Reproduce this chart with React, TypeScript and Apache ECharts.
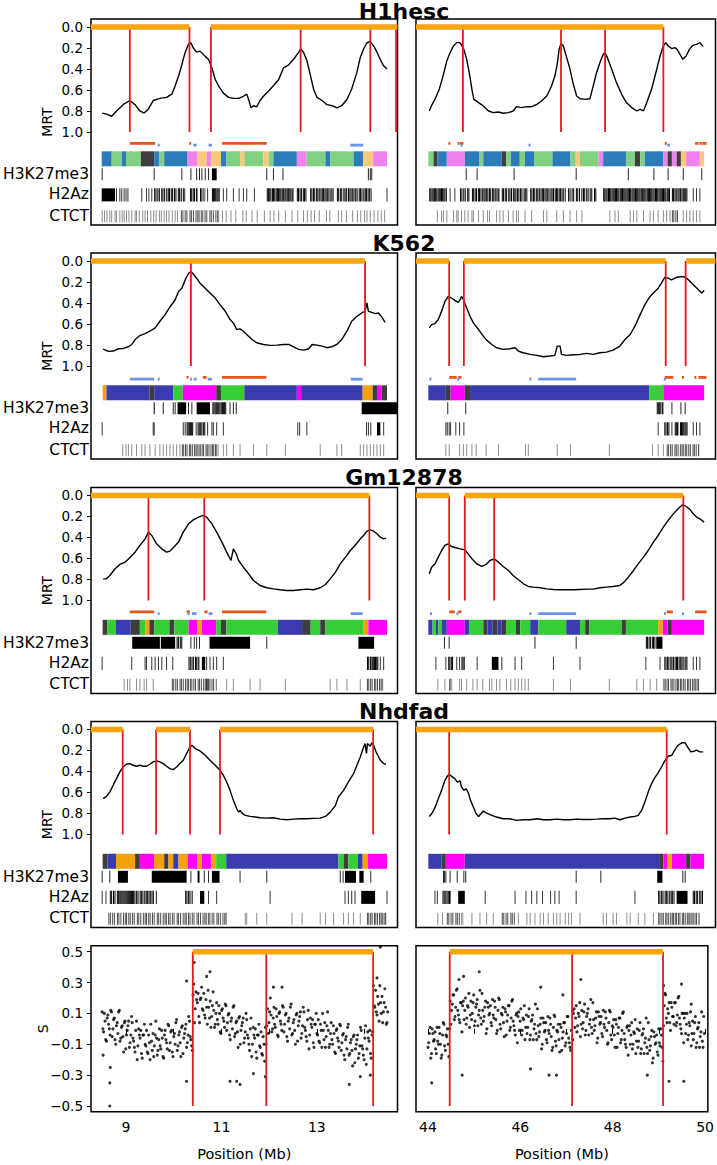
import React, { useEffect, useRef } from "react";
import * as echarts from "echarts";

// ===================== DATA =====================
// MRT curves [position Mb, MRT]
const h1L_mrt = [[8.50,0.82],[8.59,0.83],[8.70,0.85],[8.80,0.80],[8.94,0.74],[9.08,0.70],[9.19,0.74],[9.29,0.80],[9.38,0.82],[9.47,0.78],[9.57,0.70],[9.71,0.68],[9.85,0.67],[9.96,0.64],[10.03,0.56],[10.10,0.47],[10.17,0.36],[10.24,0.24],[10.31,0.165],[10.36,0.15],[10.41,0.20],[10.48,0.24],[10.55,0.23],[10.66,0.28],[10.73,0.31],[10.80,0.39],[10.87,0.50],[10.94,0.56],[11.04,0.63],[11.15,0.67],[11.25,0.68],[11.36,0.68],[11.46,0.66],[11.53,0.64],[11.57,0.69],[11.62,0.77],[11.67,0.75],[11.74,0.76],[11.81,0.70],[11.88,0.66],[11.99,0.61],[12.09,0.56],[12.20,0.50],[12.30,0.39],[12.41,0.36],[12.51,0.31],[12.62,0.24],[12.66,0.21],[12.72,0.24],[12.79,0.32],[12.86,0.45],[12.93,0.59],[13.00,0.67],[13.11,0.70],[13.21,0.74],[13.32,0.75],[13.42,0.77],[13.52,0.75],[13.63,0.69],[13.73,0.59],[13.84,0.43],[13.91,0.29],[13.98,0.21],[14.05,0.15],[14.12,0.14],[14.19,0.18],[14.26,0.24],[14.33,0.31],[14.40,0.37],[14.47,0.40]];
const h1R_mrt = [[44.02,0.80],[44.07,0.746],[44.14,0.689],[44.23,0.594],[44.32,0.451],[44.39,0.324],[44.46,0.244],[44.53,0.181],[44.60,0.149],[44.66,0.149],[44.70,0.171],[44.75,0.213],[44.81,0.308],[44.87,0.451],[44.92,0.594],[44.96,0.689],[45.06,0.72],[45.16,0.752],[45.27,0.80],[45.37,0.816],[45.48,0.81],[45.58,0.822],[45.69,0.816],[45.79,0.80],[45.86,0.759],[45.97,0.768],[46.08,0.759],[46.18,0.759],[46.29,0.737],[46.39,0.705],[46.50,0.657],[46.60,0.562],[46.67,0.467],[46.72,0.356],[46.76,0.213],[46.80,0.156],[46.85,0.181],[46.92,0.292],[46.99,0.403],[47.06,0.546],[47.13,0.657],[47.20,0.683],[47.31,0.689],[47.41,0.683],[47.48,0.562],[47.55,0.435],[47.62,0.34],[47.69,0.26],[47.73,0.244],[47.78,0.292],[47.87,0.403],[47.97,0.53],[48.08,0.641],[48.18,0.72],[48.29,0.768],[48.40,0.80],[48.47,0.784],[48.54,0.80],[48.61,0.72],[48.71,0.594],[48.82,0.403],[48.89,0.276],[48.96,0.181],[49.01,0.149],[49.06,0.181],[49.14,0.206],[49.20,0.197],[49.25,0.213],[49.31,0.26],[49.37,0.308],[49.44,0.276],[49.51,0.213],[49.58,0.175],[49.66,0.165],[49.73,0.149],[49.80,0.187]];
const k5L_mrt = [[8.52,0.839],[8.63,0.861],[8.73,0.858],[8.84,0.836],[8.94,0.833],[9.05,0.817],[9.12,0.795],[9.19,0.748],[9.29,0.710],[9.40,0.691],[9.50,0.669],[9.61,0.637],[9.71,0.574],[9.82,0.511],[9.92,0.438],[10.03,0.369],[10.10,0.290],[10.17,0.259],[10.24,0.180],[10.31,0.117],[10.36,0.101],[10.41,0.123],[10.48,0.164],[10.55,0.211],[10.66,0.259],[10.76,0.306],[10.87,0.353],[10.97,0.416],[11.08,0.479],[11.18,0.558],[11.25,0.590],[11.32,0.653],[11.39,0.647],[11.46,0.669],[11.53,0.700],[11.64,0.748],[11.74,0.779],[11.88,0.795],[12.02,0.804],[12.16,0.801],[12.30,0.795],[12.41,0.795],[12.51,0.817],[12.62,0.842],[12.72,0.849],[12.83,0.836],[12.90,0.795],[13.00,0.801],[13.11,0.811],[13.21,0.826],[13.31,0.817],[13.42,0.795],[13.52,0.748],[13.63,0.669],[13.73,0.574],[13.84,0.527],[13.94,0.495],[14.01,0.480],[14.05,0.400],[14.08,0.480],[14.15,0.489],[14.22,0.502],[14.29,0.495],[14.36,0.533],[14.43,0.584]];
const k5R_mrt = [[44.02,0.637],[44.07,0.606],[44.14,0.596],[44.21,0.558],[44.28,0.480],[44.35,0.385],[44.42,0.338],[44.49,0.353],[44.56,0.375],[44.63,0.394],[44.67,0.369],[44.70,0.338],[44.74,0.369],[44.81,0.448],[44.88,0.527],[44.95,0.590],[45.06,0.653],[45.16,0.716],[45.23,0.754],[45.34,0.795],[45.44,0.826],[45.58,0.842],[45.72,0.836],[45.83,0.826],[45.90,0.858],[46.00,0.874],[46.15,0.890],[46.29,0.899],[46.43,0.912],[46.57,0.905],[46.67,0.899],[46.72,0.811],[46.78,0.811],[46.81,0.890],[46.92,0.899],[47.06,0.893],[47.20,0.890],[47.34,0.880],[47.48,0.890],[47.62,0.874],[47.76,0.868],[47.90,0.849],[48.04,0.811],[48.15,0.748],[48.26,0.700],[48.36,0.621],[48.47,0.511],[48.57,0.416],[48.68,0.338],[48.78,0.290],[48.85,0.259],[48.92,0.211],[48.99,0.155],[49.06,0.164],[49.13,0.180],[49.24,0.155],[49.35,0.148],[49.42,0.155],[49.49,0.180],[49.56,0.211],[49.63,0.243],[49.70,0.274],[49.77,0.306],[49.82,0.281]];
const gmL_mrt = [[8.52,0.794],[8.59,0.794],[8.66,0.762],[8.77,0.698],[8.87,0.657],[8.98,0.635],[9.08,0.594],[9.19,0.540],[9.29,0.476],[9.40,0.413],[9.47,0.349],[9.54,0.381],[9.64,0.460],[9.75,0.508],[9.85,0.540],[9.92,0.530],[9.99,0.498],[10.10,0.444],[10.20,0.349],[10.31,0.270],[10.41,0.232],[10.52,0.206],[10.62,0.190],[10.69,0.206],[10.80,0.270],[10.90,0.349],[11.01,0.444],[11.11,0.540],[11.20,0.619],[11.25,0.508],[11.31,0.556],[11.36,0.619],[11.46,0.683],[11.57,0.746],[11.67,0.810],[11.81,0.857],[11.95,0.879],[12.09,0.889],[12.23,0.898],[12.37,0.905],[12.51,0.905],[12.65,0.898],[12.79,0.892],[12.93,0.898],[13.07,0.879],[13.18,0.848],[13.28,0.794],[13.39,0.730],[13.49,0.651],[13.60,0.587],[13.70,0.524],[13.80,0.476],[13.91,0.413],[13.98,0.381],[14.05,0.340],[14.12,0.327],[14.19,0.340],[14.26,0.365],[14.33,0.397],[14.40,0.413],[14.45,0.406]];
const gmR_mrt = [[44.02,0.746],[44.07,0.683],[44.14,0.651],[44.21,0.587],[44.28,0.524],[44.35,0.476],[44.42,0.460],[44.49,0.486],[44.58,0.498],[44.67,0.508],[44.77,0.517],[44.84,0.556],[44.92,0.603],[45.02,0.651],[45.13,0.676],[45.22,0.657],[45.30,0.619],[45.39,0.603],[45.48,0.635],[45.58,0.676],[45.69,0.714],[45.79,0.762],[45.90,0.803],[46.01,0.841],[46.11,0.867],[46.22,0.873],[46.36,0.879],[46.50,0.889],[46.64,0.895],[46.78,0.898],[46.92,0.898],[47.06,0.898],[47.20,0.895],[47.34,0.892],[47.48,0.892],[47.62,0.879],[47.76,0.873],[47.90,0.867],[48.04,0.857],[48.13,0.825],[48.22,0.778],[48.33,0.714],[48.43,0.651],[48.54,0.587],[48.64,0.524],[48.75,0.444],[48.85,0.381],[48.96,0.302],[49.06,0.238],[49.17,0.175],[49.27,0.127],[49.37,0.086],[49.44,0.105],[49.51,0.127],[49.59,0.175],[49.66,0.206],[49.73,0.222],[49.82,0.254]];
const nhL_mrt = [[8.52,0.659],[8.59,0.637],[8.66,0.596],[8.73,0.532],[8.80,0.468],[8.87,0.404],[8.94,0.357],[9.01,0.331],[9.08,0.325],[9.15,0.341],[9.22,0.350],[9.29,0.341],[9.36,0.350],[9.43,0.350],[9.50,0.331],[9.57,0.309],[9.64,0.299],[9.71,0.309],[9.78,0.325],[9.85,0.350],[9.92,0.373],[9.99,0.382],[10.06,0.357],[10.13,0.325],[10.20,0.293],[10.27,0.229],[10.34,0.166],[10.38,0.150],[10.45,0.182],[10.55,0.204],[10.66,0.245],[10.76,0.293],[10.87,0.341],[10.97,0.389],[11.04,0.436],[11.11,0.500],[11.18,0.580],[11.25,0.675],[11.32,0.755],[11.36,0.787],[11.39,0.771],[11.43,0.796],[11.50,0.818],[11.60,0.828],[11.71,0.834],[11.81,0.841],[11.95,0.844],[12.09,0.841],[12.23,0.854],[12.37,0.860],[12.51,0.854],[12.65,0.850],[12.79,0.850],[12.93,0.847],[13.07,0.844],[13.18,0.828],[13.28,0.787],[13.39,0.723],[13.45,0.643],[13.56,0.580],[13.66,0.500],[13.77,0.420],[13.84,0.341],[13.91,0.261],[13.98,0.166],[14.01,0.134],[14.04,0.229],[14.06,0.134],[14.12,0.159],[14.15,0.127],[14.19,0.150],[14.24,0.213],[14.33,0.293],[14.40,0.325],[14.45,0.331]];
const nhR_mrt = [[44.02,0.828],[44.07,0.803],[44.14,0.745],[44.21,0.659],[44.28,0.580],[44.35,0.484],[44.40,0.446],[44.44,0.427],[44.49,0.446],[44.56,0.468],[44.61,0.500],[44.67,0.490],[44.70,0.548],[44.75,0.580],[44.80,0.564],[44.85,0.611],[44.89,0.675],[44.95,0.739],[45.01,0.803],[45.06,0.828],[45.11,0.803],[45.16,0.777],[45.23,0.796],[45.34,0.818],[45.44,0.834],[45.58,0.850],[45.72,0.850],[45.86,0.866],[46.00,0.860],[46.15,0.860],[46.29,0.850],[46.43,0.860],[46.57,0.860],[46.71,0.854],[46.85,0.860],[46.99,0.860],[47.13,0.854],[47.27,0.857],[47.41,0.857],[47.55,0.854],[47.69,0.850],[47.83,0.850],[47.94,0.844],[48.04,0.860],[48.15,0.844],[48.26,0.834],[48.36,0.828],[48.43,0.818],[48.50,0.771],[48.57,0.691],[48.64,0.596],[48.71,0.516],[48.78,0.459],[48.85,0.414],[48.92,0.357],[48.99,0.299],[49.06,0.255],[49.14,0.245],[49.20,0.197],[49.27,0.150],[49.35,0.127],[49.42,0.127],[49.47,0.166],[49.54,0.213],[49.61,0.207],[49.66,0.197],[49.73,0.213],[49.80,0.213]];

// Domains (orange bars) [start, end] Mb
const h1L_dom = [[8.266,10.33],[10.78,14.69]];
const h1R_dom = [[43.74,48.96]];
const k5L_dom = [[8.266,14.01]];
const k5R_dom = [[43.74,44.44],[44.75,49.01],[49.44,50.06]];
const gmL_dom = [[8.266,14.10]];
const gmR_dom = [[43.74,44.44],[44.77,49.38]];
const nhL_dom = [[8.266,8.93],[9.63,10.34],[10.97,14.18]];
const nhR_dom = [[43.74,49.03]];
const sL_dom = [[10.40,14.18]];
const sR_dom = [[44.47,49.09]];

// Domain borders (red lines) Mb
const h1L_red = [9.08,10.33,10.78,12.66,14.12,14.66];
const h1R_red = [44.73,46.80,47.73,48.96];
const k5L_red = [10.36,14.01];
const k5R_red = [44.44,44.75,49.01,49.43];
const gmL_red = [9.47,10.64,14.10];
const gmR_red = [44.44,44.77,45.39,49.38];
const nhL_red = [8.93,9.63,10.34,10.97,14.18];
const nhR_red = [44.44,49.03];
const sL_red = [10.40,11.94,14.18];
const sR_red = [44.47,47.12,49.09];

// Small markers under the curve: orange and blue segments [start, end]
const h1L_mo = [[9.08,9.61],[10.33,10.36],[11.01,11.95]];
const h1L_mb = [[9.68,9.69],[10.41,10.48],[10.73,10.80],[13.70,13.97]];
const h1R_mo = [[44.43,44.46],[44.62,44.66],[44.67,44.74],[48.99,49.03],[49.63,49.70],[49.72,49.77],[49.78,49.87]];
const h1R_mb = [[44.68,44.72],[46.13,46.14],[49.04,49.10]];
const k5L_mo = [[10.27,10.31],[10.61,10.69],[11.01,11.94]];
const k5L_mb = [[9.08,9.59],[9.68,9.69],[10.35,10.38],[10.42,10.48],[10.71,10.80],[13.71,13.96]];
const k5R_mo = [[44.44,44.60],[44.63,44.70],[48.99,49.17],[49.37,49.38],[49.63,49.64],[49.70,49.87]];
const k5R_mb = [[44.04,44.05],[44.61,44.65],[46.15,46.16],[46.32,47.12],[48.98,49.00]];
const gmL_mo = [[9.08,9.59],[10.27,10.34],[10.64,10.71],[11.01,11.94]];
const gmL_mb = [[9.68,9.69],[10.31,10.32],[10.38,10.48],[10.73,10.81],[13.71,13.96]];
const gmR_mo = [[44.44,44.56],[44.63,44.70],[49.03,49.16],[49.63,49.87]];
const gmR_mb = [[44.05,44.06],[44.61,44.62],[46.15,46.16],[46.32,47.12],[48.99,49.00],[49.37,49.38]];
const none: number[][] = [];

// Chromatin states [start, end, state]
const h1L_st = [[8.49,8.70,'b'],[8.70,8.91,'g'],[8.91,9.00,'b'],[9.00,9.31,'g'],[9.31,9.59,'k'],[9.59,9.69,'b'],[9.69,9.80,'g'],[9.80,10.29,'b'],[10.29,10.50,'v'],[10.50,10.69,'y'],[10.69,10.78,'v'],[10.78,10.99,'y'],[10.99,11.10,'b'],[11.10,11.39,'g'],[11.39,11.48,'y'],[11.48,11.88,'g'],[11.88,11.99,'y'],[11.99,12.09,'g'],[12.09,12.58,'b'],[12.58,12.78,'v'],[12.78,13.18,'g'],[13.18,13.28,'b'],[13.28,13.77,'g'],[13.77,13.97,'b'],[13.97,14.18,'y'],[14.18,14.47,'v']];
const h1R_st = [[44.00,44.11,'g'],[44.11,44.19,'k'],[44.19,44.39,'b'],[44.39,44.77,'v'],[44.77,45.07,'b'],[45.07,45.16,'g'],[45.16,45.55,'b'],[45.55,45.64,'k'],[45.64,45.74,'g'],[45.74,45.93,'b'],[45.93,46.04,'g'],[46.04,46.23,'b'],[46.23,46.62,'g'],[46.62,47.00,'b'],[47.00,47.11,'g'],[47.11,47.20,'y'],[47.20,47.59,'g'],[47.59,47.69,'v'],[47.69,48.17,'b'],[48.17,48.36,'g'],[48.36,48.47,'k'],[48.47,48.57,'g'],[48.57,48.96,'b'],[48.96,49.05,'v'],[49.05,49.14,'k'],[49.14,49.24,'v'],[49.24,49.33,'k'],[49.33,49.44,'y'],[49.44,49.73,'v'],[49.73,49.82,'y']];
const k5L_st = [[8.51,8.59,'o'],[8.59,9.49,'n'],[9.49,9.59,'k'],[9.59,9.99,'n'],[9.99,10.19,'l'],[10.19,10.89,'m'],[10.89,10.99,'k'],[10.99,11.48,'l'],[11.48,12.58,'n'],[12.58,12.67,'m'],[12.67,13.96,'n'],[13.96,14.17,'o'],[14.17,14.26,'k'],[14.26,14.36,'m'],[14.36,14.47,'k']];
const k5R_st = [[44.00,44.37,'n'],[44.37,44.47,'k'],[44.47,44.77,'m'],[44.77,44.88,'k'],[44.88,48.66,'n'],[48.66,48.96,'l'],[48.96,49.82,'m']];
const gmL_st = [[8.51,8.61,'k'],[8.61,8.79,'l'],[8.79,9.10,'n'],[9.10,9.29,'k'],[9.29,9.40,'l'],[9.40,9.49,'o'],[9.49,9.59,'k'],[9.59,9.91,'l'],[9.91,10.01,'k'],[10.01,10.31,'l'],[10.31,10.50,'m'],[10.50,10.59,'o'],[10.59,10.89,'m'],[10.89,10.99,'l'],[10.99,11.10,'k'],[11.10,12.18,'l'],[12.18,12.69,'n'],[12.69,12.87,'k'],[12.87,13.07,'l'],[13.07,13.18,'k'],[13.18,13.98,'l'],[13.98,14.08,'o'],[14.08,14.47,'m']];
const gmR_st = [[44.00,44.09,'n'],[44.09,44.16,'l'],[44.16,44.21,'n'],[44.21,44.28,'l'],[44.28,44.39,'n'],[44.39,44.77,'m'],[44.77,44.87,'n'],[44.87,45.16,'l'],[45.16,45.25,'k'],[45.25,45.36,'n'],[45.36,45.46,'k'],[45.46,45.55,'n'],[45.55,45.64,'k'],[45.64,45.85,'l'],[45.85,45.94,'k'],[45.94,46.15,'l'],[46.15,46.32,'n'],[46.32,46.91,'l'],[46.91,47.20,'n'],[47.20,47.31,'l'],[47.31,47.40,'k'],[47.40,48.08,'l'],[48.08,48.17,'k'],[48.17,48.85,'l'],[48.85,48.95,'o'],[48.95,49.05,'m'],[49.05,49.14,'k'],[49.14,49.82,'m']];
const nhL_st = [[8.51,8.61,'k'],[8.61,8.79,'n'],[8.79,9.19,'o'],[9.19,9.29,'k'],[9.29,9.59,'m'],[9.59,9.80,'o'],[9.80,9.89,'k'],[9.89,9.99,'o'],[9.99,10.10,'n'],[10.10,10.29,'o'],[10.29,10.50,'m'],[10.50,10.59,'o'],[10.59,10.78,'m'],[10.78,10.89,'o'],[10.89,11.10,'l'],[11.10,13.45,'n'],[13.45,13.56,'l'],[13.56,13.66,'k'],[13.66,13.86,'l'],[13.86,13.96,'n'],[13.96,14.07,'o'],[14.07,14.47,'m']];
const nhR_st = [[44.00,44.28,'n'],[44.28,44.37,'k'],[44.37,44.77,'m'],[44.77,48.87,'n'],[48.87,48.96,'k'],[48.96,49.05,'m'],[49.05,49.14,'o'],[49.14,49.44,'m'],[49.44,49.53,'k'],[49.53,49.82,'m']];

// Tracks: a number = single peak; [start, end, density?] = covered region
const h1L_h3 = [8.50,9.59,10.17,10.36,10.48,10.54,10.59,10.66,10.73,[10.80,10.90],11.95,12.09,12.29,14.08,14.12,14.15];
const h1L_h2 = [[8.49,8.77],8.80,8.87,8.91,8.96,9.00,9.04,9.33,9.43,9.48,9.54,[9.59,10.24,0.6],[10.34,10.50,0.7],[10.55,10.66,0.55],10.71,[10.80,10.97,0.9],11.04,11.11,11.25,11.37,11.46,11.53,11.69,[11.95,12.51,0.8],[12.58,12.79,0.7],[12.86,13.35,0.7],[13.42,14.15,0.65],14.47];
const h1L_ct = [8.50,8.55,8.60,8.66,8.70,8.77,8.80,8.87,8.92,8.96,9.01,9.06,9.12,9.19,9.22,9.28,9.35,9.40,9.45,9.52,9.58,9.63,9.70,9.74,9.80,9.85,9.90,9.97,10.03,10.08,[10.15,10.95,0.5],11.02,11.10,11.20,11.30,11.45,11.52,11.64,11.75,11.90,12.02,12.10,12.20,12.34,12.48,12.60,12.72,12.80,12.88,12.95,13.05,13.20,13.27,13.45,13.52,13.62,13.75,13.85,13.92,14.00,14.05,14.12,14.20,14.28,14.35,14.42];
const h1R_h3 = [44.80,45.03,45.81,47.12,48.22,48.76,49.06,49.38,49.77];
const h1R_h2 = [[44.02,44.39,0.85],44.46,44.56,[44.67,44.88,0.6],[44.92,45.50,0.7],[45.55,46.10,0.65],[46.15,46.90,0.7],[46.95,47.55,0.55],[47.69,49.10,0.85],[49.14,49.47,0.75],49.59,49.66,49.73];
const h1R_ct = [44.19,44.28,44.32,44.39,44.53,44.60,44.63,44.70,44.77,44.84,44.92,44.95,45.06,45.16,45.25,45.29,45.44,45.51,45.58,45.69,45.79,45.86,45.90,46.04,46.18,46.43,46.50,46.71,46.85,46.99,47.13,47.24,47.83,47.94,48.01,48.26,48.33,48.40,48.54,48.68,48.75,48.85,48.96,49.03,49.10,[49.14,49.30,0.55],49.38,49.45,49.52,49.59,49.66,49.73];
const k5L_h3 = [[9.58,9.60],9.78,9.99,10.03,[10.08,10.26],10.31,10.38,[10.48,10.76],[10.81,11.10,0.85],11.18,11.25,11.31,[13.94,14.69]];
const k5L_h2 = [8.50,9.57,9.59,10.20,10.24,[10.27,10.41,0.9],10.47,[10.50,10.66,0.75],10.71,10.80,10.83,10.90,11.04,12.60,12.64,12.79,14.04,14.08,14.13,[14.26,14.33],14.40];
const k5L_ct = [8.93,9.00,9.05,9.12,9.22,9.33,9.40,9.50,9.61,9.71,9.78,9.85,9.92,9.99,10.06,10.13,[10.17,10.94,0.6],11.04,11.11,11.25,11.39,11.67,11.95,12.34,13.07,13.42,13.52,13.91,13.98,14.05,14.12,14.19,14.26,14.33,14.40];
const k5R_h3 = [44.41,44.79,[48.82,48.96,0.8],49.14,49.33,49.42];
const k5R_h2 = [44.37,44.40,44.44,44.47,44.58,44.66,44.75,48.85,[48.98,49.10,0.7],49.14,[49.20,49.28,0.85],[49.31,49.47,0.9],49.59,49.66,49.73];
const k5R_ct = [44.37,44.44,44.66,44.74,44.81,44.92,45.01,45.22,45.48,46.05,46.11,46.72,47.00,47.82,48.73,48.85,48.96,[49.03,49.73,0.55]];
const gmL_h3 = [[9.13,9.71],[9.73,10.03],[10.06,10.19,0.6],10.36,10.43,10.48,10.54,[10.75,11.60],11.95,[13.87,14.20]];
const gmL_h2 = [8.50,9.12,9.40,9.43,9.54,9.61,9.68,9.75,9.85,9.98,[10.31,10.55,0.65],[10.59,10.66],10.69,10.76,10.83,10.90,11.04,[14.05,14.15,0.65],[14.15,14.29,0.9],14.33,14.40];
const gmL_ct = [8.96,9.03,9.08,9.22,9.29,9.38,9.43,9.57,[9.96,10.90,0.55],[10.69,10.71],11.11,11.25,11.60,11.81,12.34,13.28,13.42,13.63,13.91,[14.05,14.40,0.6]];
const gmR_h3 = [44.34,44.44,46.25,47.12,[48.59,48.82,0.7],[48.82,48.94]];
const gmR_h2 = [44.16,44.37,[44.42,44.53,0.75],44.60,44.66,[44.70,44.77,0.75],45.03,[45.34,45.48],45.55,45.83,45.97,46.64,47.20,48.59,48.89,[48.98,49.47,0.7],49.59,49.66,49.73];
const gmR_ct = [44.20,44.35,[44.44,44.51,0.6],44.66,44.70,44.81,44.94,45.03,45.15,45.29,45.34,45.44,45.51,45.65,45.74,45.83,45.90,45.97,46.04,46.11,46.64,47.00,47.82,48.40,48.54,48.68,48.82,[48.96,49.73,0.6]];
const nhL_h3 = [8.50,8.66,[8.83,9.04],[9.54,10.27],10.36,[10.50,10.54],10.64,10.73,[10.80,10.96],11.39,11.95,13.49,13.55,[13.59,13.82],[13.89,13.98],14.13];
const nhL_h2 = [8.50,8.58,[8.66,8.86,0.6],[8.86,9.15,0.95],[9.15,9.61,0.65],9.64,[10.24,10.40,0.65],[10.55,10.64],10.73,10.90,12.02,13.59,13.66,13.73,13.80,[13.93,14.22],14.47];
const nhL_ct = [[8.63,11.11,0.5],11.50,11.53,11.74,11.95,12.48,12.69,13.07,13.18,13.35,13.56,13.66,13.77,13.91,[14.05,14.47,0.6]];
const nhR_h3 = [44.32,44.34,44.37,44.46,44.61,44.75,44.79,47.12,47.64,[48.83,48.94],49.37,49.42];
const nhR_h2 = [44.14,44.19,[44.30,44.42,0.7],[44.42,44.47],[44.63,44.77],45.20,45.83,46.06,46.18,46.29,46.41,46.58,46.67,46.76,47.12,48.36,[48.85,49.20,0.65],[49.24,49.47],[49.58,49.80,0.65]];
const nhR_ct = [44.20,44.30,[44.39,44.74,0.5],44.92,45.09,45.23,45.37,[45.55,45.83,0.5],45.90,46.08,46.15,46.25,46.36,46.43,46.53,46.64,46.71,46.78,46.89,46.96,47.02,47.20,47.69,47.76,47.90,47.97,48.19,48.26,48.43,48.57,48.75,[48.85,49.73,0.6]];

// S values [position Mb, S]
const sL_pts = [[8.50,0.11],[8.53,-0.02],[8.56,0.05],[8.59,-0.08],[8.62,0.09],[8.65,0.00],[8.68,0.12],[8.71,-0.05],[8.74,0.06],[8.77,-0.07],[8.80,0.02],[8.83,-0.03],[8.86,0.12],[8.89,-0.06],[8.92,0.02],[8.95,-0.15],[8.98,0.05],[9.01,-0.04],[9.04,0.02],[9.07,-0.12],[9.10,-0.04],[9.13,0.04],[9.16,-0.08],[9.19,-0.15],[9.22,0.05],[9.25,-0.11],[9.28,-0.04],[9.31,-0.01],[9.34,-0.19],[9.37,-0.04],[9.40,-0.10],[9.43,-0.01],[9.46,-0.16],[9.49,-0.09],[9.52,0.03],[9.55,-0.14],[9.58,-0.18],[9.61,-0.04],[9.64,-0.06],[9.67,-0.14],[9.70,0.00],[9.73,-0.13],[9.76,-0.06],[9.79,-0.19],[9.82,-0.01],[9.85,-0.09],[9.88,0.03],[9.91,-0.14],[9.94,-0.02],[9.97,-0.15],[10.00,-0.05],[10.03,-0.10],[10.06,0.06],[10.09,-0.11],[10.12,-0.02],[10.15,-0.18],[10.18,0.02],[10.21,-0.06],[10.24,0.00],[10.27,-0.12],[10.30,-0.04],[10.33,0.05],[10.36,-0.07],[10.39,-0.14],[10.42,0.29],[10.45,0.13],[10.48,0.19],[10.51,0.23],[10.54,0.04],[10.57,0.20],[10.60,0.13],[10.63,0.23],[10.66,0.07],[10.69,0.14],[10.72,0.25],[10.75,0.07],[10.78,0.01],[10.81,0.15],[10.84,0.12],[10.87,0.03],[10.90,0.17],[10.93,0.03],[10.96,0.10],[10.99,-0.03],[11.02,0.13],[11.05,0.05],[11.08,0.16],[11.11,-0.01],[11.14,0.09],[11.17,-0.04],[11.20,0.05],[11.23,0.00],[11.26,0.15],[11.29,-0.03],[11.32,0.05],[11.35,-0.12],[11.38,0.08],[11.41,-0.01],[11.44,0.04],[11.47,-0.09],[11.50,-0.02],[11.53,0.06],[11.56,-0.06],[11.59,-0.14],[11.62,0.07],[11.65,-0.10],[11.68,-0.04],[11.71,0.00],[11.74,-0.19],[11.77,-0.04],[11.80,-0.11],[11.83,-0.02],[11.86,-0.17],[11.89,-0.10],[11.92,0.01],[11.95,0.02],[11.98,-0.03],[12.01,0.11],[12.04,0.09],[12.07,0.00],[12.10,0.14],[12.13,0.01],[12.16,0.08],[12.19,-0.05],[12.22,0.11],[12.25,0.03],[12.28,0.15],[12.31,-0.02],[12.34,0.09],[12.37,-0.05],[12.40,0.05],[12.43,0.00],[12.46,0.16],[12.49,-0.03],[12.52,0.06],[12.55,-0.10],[12.58,0.10],[12.61,0.02],[12.64,0.08],[12.67,-0.06],[12.70,0.02],[12.73,0.11],[12.76,-0.01],[12.79,-0.08],[12.82,0.12],[12.85,-0.04],[12.88,0.03],[12.91,0.06],[12.94,-0.12],[12.97,0.03],[13.00,-0.03],[13.03,0.06],[13.06,-0.09],[13.09,-0.01],[13.12,0.10],[13.15,-0.07],[13.18,-0.12],[13.21,0.02],[13.24,-0.01],[13.27,-0.10],[13.30,0.04],[13.33,-0.10],[13.36,-0.03],[13.39,-0.16],[13.42,0.00],[13.45,-0.08],[13.48,0.03],[13.51,-0.14],[13.54,-0.04],[13.57,-0.17],[13.60,-0.07],[13.63,-0.13],[13.66,0.03],[13.69,-0.16],[13.72,-0.07],[13.75,-0.24],[13.78,-0.04],[13.81,-0.13],[13.84,-0.07],[13.87,-0.19],[13.90,-0.11],[13.93,-0.01],[13.96,-0.13],[13.99,-0.20],[14.02,0.02],[14.05,-0.13],[14.08,-0.06],[14.11,-0.01],[14.14,-0.19],[14.17,-0.02],[14.20,0.15],[14.23,0.25],[14.26,0.09],[14.29,0.16],[14.32,0.28],[14.35,0.10],[14.38,0.04],[14.41,0.17],[14.44,0.14],[14.47,0.04],
[8.515,0.00],[8.545,0.10],[8.575,-0.07],[8.605,0.07],[8.635,0.03],[8.665,-0.04],[8.695,0.11],[8.725,0.00],[8.755,0.07],[8.785,-0.10],[8.815,0.04],[8.845,0.11],[8.875,-0.08],[8.905,0.01],[8.935,-0.05],[8.965,0.04],[8.995,-0.13],[9.025,-0.01],[9.055,0.05],[9.085,-0.09],[9.115,0.08],[9.145,-0.06],[9.175,-0.12],[9.205,-0.01],[9.235,-0.20],[9.265,0.00],[9.295,-0.06],[9.325,-0.16],[9.355,-0.04],[9.385,0.03],[9.415,-0.11],[9.445,-0.15],[9.475,-0.04],[9.505,-0.20],[9.535,-0.08],[9.565,-0.03],[9.595,-0.11],[9.625,0.05],[9.655,-0.17],[9.685,-0.07],[9.715,-0.11],[9.745,-0.01],[9.775,-0.18],[9.805,-0.04],[9.835,-0.07],[9.865,-0.13],[9.895,0.02],[9.925,-0.09],[9.955,-0.01],[9.985,-0.18],[10.015,-0.03],[10.045,0.04],[10.075,-0.14],[10.105,-0.04],[10.135,-0.09],[10.165,0.01],[10.195,-0.16],[10.225,-0.03],[10.255,0.03],[10.285,-0.09],[10.315,0.08],[10.345,-0.05],[10.375,-0.11],[10.405,0.22],[10.435,0.04],[10.465,0.24],[10.495,0.17],[10.525,0.08],[10.555,0.19],[10.585,0.27],[10.615,0.12],[10.645,0.09],[10.675,0.19],[10.705,0.03],[10.735,0.14],[10.765,0.18],[10.795,0.08],[10.825,0.24],[10.855,0.01],[10.885,0.10],[10.915,0.06],[10.945,0.15],[10.975,-0.02],[11.005,0.12],[11.035,0.07],[11.065,0.01],[11.095,0.15],[11.125,0.04],[11.155,0.10],[11.185,-0.07],[11.215,0.07],[11.245,0.14],[11.275,-0.05],[11.305,0.04],[11.335,-0.02],[11.365,0.07],[11.395,-0.10],[11.425,0.02],[11.455,0.07],[11.485,-0.06],[11.515,0.10],[11.545,-0.04],[11.575,-0.10],[11.605,0.00],[11.635,-0.18],[11.665,0.01],[11.695,-0.06],[11.725,-0.15],[11.755,-0.04],[11.785,0.03],[11.815,-0.12],[11.845,-0.16],[11.875,-0.05],[11.905,-0.21],[11.935,-0.10],[11.965,0.13],[11.995,0.04],[12.025,0.20],[12.055,-0.02],[12.085,0.07],[12.115,0.03],[12.145,0.13],[12.175,-0.04],[12.205,0.10],[12.235,0.05],[12.265,-0.01],[12.295,0.14],[12.325,0.03],[12.355,0.10],[12.385,-0.08],[12.415,0.07],[12.445,0.14],[12.475,-0.04],[12.505,0.04],[12.535,-0.01],[12.565,0.09],[12.595,-0.08],[12.625,0.05],[12.655,0.11],[12.685,-0.03],[12.715,0.14],[12.745,0.01],[12.775,-0.05],[12.805,0.06],[12.835,-0.13],[12.865,0.07],[12.895,0.01],[12.925,-0.09],[12.955,0.03],[12.985,0.10],[13.015,-0.04],[13.045,-0.08],[13.075,0.03],[13.105,-0.12],[13.135,-0.01],[13.165,0.04],[13.195,-0.05],[13.225,0.11],[13.255,-0.12],[13.285,-0.03],[13.315,-0.07],[13.345,0.02],[13.375,-0.15],[13.405,-0.01],[13.435,-0.06],[13.465,-0.12],[13.495,0.02],[13.525,-0.09],[13.555,-0.03],[13.585,-0.20],[13.615,-0.05],[13.645,0.01],[13.675,-0.17],[13.705,-0.09],[13.735,-0.14],[13.765,-0.05],[13.795,-0.22],[13.825,-0.10],[13.855,-0.04],[13.885,-0.16],[13.915,0.01],[13.945,-0.11],[13.975,-0.17],[14.005,-0.06],[14.035,-0.23],[14.065,-0.02],[14.095,-0.08],[14.125,-0.16],[14.155,-0.04],[14.185,0.28],[14.215,0.14],[14.245,0.11],[14.275,0.21],[14.305,0.05],[14.335,0.17],[14.365,0.21],[14.395,0.11],[14.425,0.26],[14.455,0.03],[14.485,0.11],
[8.66,-0.50],[8.66,-0.35],[8.67,-0.25],[10.43,0.43],[10.76,0.37],[10.69,0.34],[14.33,0.53],[14.26,0.33],[10.27,-0.34],[11.32,-0.34],[11.39,-0.36],[13.68,-0.36],[11.67,-0.29],[11.92,-0.31],[12.09,0.27],[12.27,0.27],[14.12,-0.30],[13.91,-0.31],[10.27,0.31],[8.52,-0.17],[11.18,-0.34]];
const sR_pts = [[44.00,-0.12],[44.03,-0.03],[44.06,-0.19],[44.09,0.00],[44.12,-0.08],[44.15,-0.02],[44.18,-0.16],[44.21,-0.08],[44.24,0.01],[44.27,-0.10],[44.30,-0.17],[44.33,0.04],[44.36,-0.11],[44.39,-0.04],[44.42,0.00],[44.45,-0.18],[44.48,0.18],[44.51,0.12],[44.54,0.22],[44.57,0.06],[44.60,0.14],[44.63,0.26],[44.66,0.09],[44.69,0.04],[44.72,0.17],[44.75,0.15],[44.78,0.06],[44.81,0.20],[44.84,0.07],[44.87,0.14],[44.90,0.01],[44.93,0.18],[44.96,0.10],[44.99,0.22],[45.02,0.05],[45.05,0.16],[45.08,0.02],[45.11,0.12],[45.14,0.07],[45.17,0.23],[45.20,0.05],[45.23,0.14],[45.26,-0.03],[45.29,0.17],[45.32,0.09],[45.35,0.15],[45.38,0.02],[45.41,0.09],[45.44,0.18],[45.47,0.06],[45.50,-0.01],[45.53,0.20],[45.56,0.03],[45.59,0.10],[45.62,0.14],[45.65,-0.05],[45.68,0.11],[45.71,0.05],[45.74,0.15],[45.77,-0.01],[45.80,0.07],[45.83,0.19],[45.86,0.02],[45.89,-0.04],[45.92,0.10],[45.95,0.08],[45.98,-0.01],[46.01,0.13],[46.04,-0.01],[46.07,0.06],[46.10,-0.07],[46.13,0.09],[46.16,0.01],[46.19,0.13],[46.22,-0.04],[46.25,0.06],[46.28,-0.07],[46.31,0.03],[46.34,-0.03],[46.37,0.13],[46.40,-0.05],[46.43,0.03],[46.46,-0.13],[46.49,0.07],[46.52,-0.02],[46.55,0.04],[46.58,-0.09],[46.61,-0.01],[46.64,0.07],[46.67,-0.05],[46.70,-0.12],[46.73,0.09],[46.76,-0.08],[46.79,-0.01],[46.82,0.03],[46.85,-0.15],[46.88,0.01],[46.91,-0.06],[46.94,0.04],[46.97,-0.11],[47.00,-0.03],[47.03,0.08],[47.06,-0.09],[47.09,-0.14],[47.13,0.12],[47.15,0.10],[47.18,0.01],[47.21,0.15],[47.24,0.02],[47.27,0.08],[47.30,-0.05],[47.33,0.12],[47.36,0.04],[47.39,0.16],[47.42,-0.01],[47.45,0.10],[47.48,-0.04],[47.51,0.06],[47.54,0.01],[47.57,0.17],[47.60,-0.01],[47.63,0.07],[47.66,-0.09],[47.69,0.11],[47.72,0.03],[47.75,0.08],[47.78,-0.05],[47.81,0.03],[47.84,0.11],[47.87,-0.01],[47.90,-0.09],[47.93,0.12],[47.96,-0.04],[47.99,0.02],[48.02,0.06],[48.05,-0.12],[48.08,0.03],[48.11,-0.03],[48.14,0.07],[48.17,-0.09],[48.20,-0.01],[48.23,0.11],[48.26,-0.07],[48.29,-0.12],[48.32,0.02],[48.35,-0.01],[48.38,-0.10],[48.41,0.04],[48.44,-0.10],[48.47,-0.03],[48.50,-0.16],[48.53,0.00],[48.56,-0.08],[48.59,0.04],[48.62,-0.13],[48.65,-0.03],[48.68,-0.16],[48.71,-0.06],[48.74,-0.12],[48.77,0.04],[48.80,-0.14],[48.83,-0.05],[48.86,-0.22],[48.89,-0.02],[48.92,-0.10],[48.95,-0.04],[48.98,-0.17],[49.01,-0.09],[49.04,0.00],[49.07,-0.12],[49.10,0.02],[49.13,0.23],[49.16,0.07],[49.19,0.13],[49.22,0.17],[49.25,-0.01],[49.28,0.14],[49.31,0.08],[49.34,0.17],[49.37,0.02],[49.40,0.09],[49.43,0.21],[49.46,0.03],[49.49,-0.03],[49.52,0.10],[49.55,0.07],[49.58,-0.03],[49.61,0.10],[49.64,-0.04],[49.67,0.02],[49.70,-0.11],[49.73,0.05],[49.76,-0.03],[49.79,0.08],[49.82,-0.09],[49.85,0.01],[49.88,-0.12],[49.91,-0.02],[49.94,-0.08],[49.97,0.08],
[44.015,-0.09],[44.045,0.01],[44.075,-0.16],[44.105,-0.03],[44.135,-0.07],[44.165,-0.13],[44.195,0.01],[44.225,-0.10],[44.255,-0.03],[44.285,-0.19],[44.315,-0.04],[44.345,0.03],[44.375,-0.14],[44.405,-0.05],[44.435,-0.10],[44.465,0.00],[44.495,0.03],[44.525,0.16],[44.555,0.22],[44.585,0.08],[44.615,0.25],[44.645,0.12],[44.675,0.06],[44.705,0.17],[44.735,-0.02],[44.765,0.18],[44.795,0.12],[44.825,0.03],[44.855,0.15],[44.885,0.23],[44.915,0.09],[44.945,0.06],[44.975,0.17],[45.005,0.02],[45.035,0.14],[45.065,0.19],[45.095,0.09],[45.125,0.25],[45.155,0.03],[45.185,0.12],[45.215,0.08],[45.245,0.18],[45.275,0.00],[45.305,0.14],[45.335,0.10],[45.365,0.04],[45.395,0.19],[45.425,0.07],[45.455,0.14],[45.485,-0.03],[45.515,0.12],[45.545,0.19],[45.575,0.00],[45.605,0.09],[45.635,0.04],[45.665,0.13],[45.695,-0.04],[45.725,0.09],[45.755,0.15],[45.785,0.01],[45.815,0.18],[45.845,0.05],[45.875,-0.01],[45.905,0.09],[45.935,-0.09],[45.965,0.11],[45.995,0.05],[46.025,-0.04],[46.055,0.07],[46.085,0.15],[46.115,0.01],[46.145,-0.03],[46.175,0.08],[46.205,-0.07],[46.235,0.05],[46.265,0.09],[46.295,0.00],[46.325,0.16],[46.355,-0.07],[46.385,0.02],[46.415,-0.02],[46.445,0.07],[46.475,-0.10],[46.505,0.04],[46.535,-0.01],[46.565,-0.07],[46.595,0.08],[46.625,-0.03],[46.655,0.03],[46.685,-0.14],[46.715,0.01],[46.745,0.08],[46.775,-0.11],[46.805,-0.02],[46.835,-0.07],[46.865,0.03],[46.895,-0.14],[46.925,-0.02],[46.955,0.04],[46.985,-0.09],[47.015,0.08],[47.045,-0.06],[47.075,-0.12],[47.105,-0.01],[47.135,-0.07],[47.165,0.13],[47.195,0.07],[47.225,-0.02],[47.255,0.10],[47.285,0.17],[47.315,0.03],[47.345,0.00],[47.375,0.11],[47.405,-0.04],[47.435,0.08],[47.465,0.13],[47.495,0.03],[47.525,0.19],[47.555,-0.03],[47.585,0.06],[47.615,0.02],[47.645,0.11],[47.675,-0.06],[47.705,0.08],[47.735,0.04],[47.765,-0.03],[47.795,0.12],[47.825,0.01],[47.855,0.07],[47.885,-0.10],[47.915,0.04],[47.945,0.11],[47.975,-0.07],[48.005,0.01],[48.035,-0.04],[48.065,0.06],[48.095,-0.12],[48.125,0.01],[48.155,0.07],[48.185,-0.07],[48.215,0.10],[48.245,-0.03],[48.275,-0.10],[48.305,0.01],[48.335,-0.17],[48.365,0.02],[48.395,-0.04],[48.425,-0.13],[48.455,-0.02],[48.485,0.06],[48.515,-0.08],[48.545,-0.12],[48.575,-0.01],[48.605,-0.16],[48.635,-0.04],[48.665,0.00],[48.695,-0.09],[48.725,0.07],[48.755,-0.16],[48.785,-0.07],[48.815,-0.11],[48.845,-0.01],[48.875,-0.19],[48.905,-0.05],[48.935,-0.09],[48.965,-0.15],[48.995,0.00],[49.025,-0.11],[49.055,-0.04],[49.085,-0.21],[49.115,0.15],[49.145,0.22],[49.175,0.04],[49.205,0.10],[49.235,0.04],[49.265,0.17],[49.295,0.08],[49.325,0.03],[49.355,0.17],[49.385,0.04],[49.415,0.20],[49.445,0.07],[49.475,0.00],[49.505,0.10],[49.535,-0.09],[49.565,0.10],[49.595,0.03],[49.625,-0.07],[49.655,0.04],[49.685,0.11],[49.715,-0.03],[49.745,-0.07],[49.775,0.04],[49.805,-0.12],[49.835,0.00],[49.865,0.04],[49.895,-0.05],[49.925,0.11],[49.955,-0.12],[49.985,-0.03],
[45.11,0.37],[44.77,0.34],[44.67,0.32],[46.44,0.27],[46.92,0.22],[47.31,0.32],[49.49,0.29],[44.08,-0.35],[44.74,-0.30],[49.22,-0.34],[49.54,-0.34],[46.62,-0.30],[46.78,-0.30],[46.22,-0.26],[49.10,0.28],[49.70,0.16],[48.75,-0.30]];

// Tick labels
const mrtTicks = [0, 0.2, 0.4, 0.6, 0.8, 1.0];
const sTicks = [-0.5, -0.3, -0.1, 0.1, 0.3, 0.5];
const leftXTicks = [9, 10, 11, 12, 13, 14];
const leftXLabels = [9, 11, 13];
const rightXTicks = [44, 45, 46, 47, 48, 49, 50];
const rightXLabels = [44, 46, 48, 50];
const titles = ["H1hesc", "K562", "Gm12878", "Nhdfad"];
const trackNames = ["H3K27me3", "H2Az", "CTCT"];

// ===================== LAYOUT / STYLE =====================
const FONT = '"DejaVu Sans", sans-serif';
const SIDES = [
  { left: 91, width: 306.5, min: 8.266, max: 14.69 },
  { left: 416, width: 299.5, min: 43.74, max: 50.06 },
];
const ROW_TOPS = [19, 253, 487.5, 721.5];
const ROW_H = 206;
const MRT_MIN = -0.076;
const MRT_MAX = MRT_MIN + 206 / 105;
const S_TOP = 945.7, S_H = 166, S_MIN = -0.537, S_MAX = 0.539;
const TRACK_LABEL_Y = [1.403, 1.595, 1.798];
const BANDS = { st: [1.184, 1.327], h3: [1.346, 1.46], h2: [1.537, 1.661], ct: [1.746, 1.86] };
const STATE_COLORS: Record<string, string> = {
  b: "#2b7cb8", g: "#82d082", k: "#3e3e3e", v: "#ee82ee", y: "#fbc97c",
  n: "#3b3bb0", m: "#ff00ff", l: "#36cd36", o: "#f5a00e",
};
const ORANGE = "#f6a50d";
const RED = "#e3191c";
const MARK_O = "#e8561e";
const MARK_B = "#6a94ea";
// irregular spacing used to hatch dense track regions (visual texture only)
const HATCH_GAPS = [0.5, 1.3, 0.7, 2.1, 0.4, 1.0, 1.6, 0.8, 0.3, 1.2];

const panels = [
  { row: 0, side: 0, mrt: h1L_mrt, dom: h1L_dom, red: h1L_red, mo: h1L_mo, mb: h1L_mb, st: h1L_st, h3: h1L_h3, h2: h1L_h2, ct: h1L_ct },
  { row: 0, side: 1, mrt: h1R_mrt, dom: h1R_dom, red: h1R_red, mo: h1R_mo, mb: h1R_mb, st: h1R_st, h3: h1R_h3, h2: h1R_h2, ct: h1R_ct },
  { row: 1, side: 0, mrt: k5L_mrt, dom: k5L_dom, red: k5L_red, mo: k5L_mo, mb: k5L_mb, st: k5L_st, h3: k5L_h3, h2: k5L_h2, ct: k5L_ct },
  { row: 1, side: 1, mrt: k5R_mrt, dom: k5R_dom, red: k5R_red, mo: k5R_mo, mb: k5R_mb, st: k5R_st, h3: k5R_h3, h2: k5R_h2, ct: k5R_ct },
  { row: 2, side: 0, mrt: gmL_mrt, dom: gmL_dom, red: gmL_red, mo: gmL_mo, mb: gmL_mb, st: gmL_st, h3: gmL_h3, h2: gmL_h2, ct: gmL_ct },
  { row: 2, side: 1, mrt: gmR_mrt, dom: gmR_dom, red: gmR_red, mo: gmR_mo, mb: gmR_mb, st: gmR_st, h3: gmR_h3, h2: gmR_h2, ct: gmR_ct },
  { row: 3, side: 0, mrt: nhL_mrt, dom: nhL_dom, red: nhL_red, mo: none, mb: none, st: nhL_st, h3: nhL_h3, h2: nhL_h2, ct: nhL_ct },
  { row: 3, side: 1, mrt: nhR_mrt, dom: nhR_dom, red: nhR_red, mo: none, mb: none, st: nhR_st, h3: nhR_h3, h2: nhR_h2, ct: nhR_ct },
];
const sPanels = [
  { side: 0, pts: sL_pts, dom: sL_dom, red: sL_red },
  { side: 1, pts: sR_pts, dom: sR_dom, red: sR_red },
];

function rectShape(api: any, x1: number, x2: number, y1: number, y2: number, minW: number) {
  const a = api.coord([x1, y1]);
  const b = api.coord([x2, y2]);
  let x = Math.min(a[0], b[0]);
  let w = Math.abs(b[0] - a[0]);
  if (w < minW) { x = (a[0] + b[0]) / 2 - minW / 2; w = minW; }
  return { x, y: Math.min(a[1], b[1]), width: w, height: Math.abs(b[1] - a[1]) };
}

function segSeries(gi: number, items: any[], draw: (d: any, api: any) => any, z: number) {
  return {
    type: "custom", xAxisIndex: gi, yAxisIndex: gi, z, silent: true, animation: false,
    data: items.map((d: any) => (Array.isArray(d) ? [d[0], d[1], 0] : [d, d, 0])),
    encode: { x: [0, 1], y: 2 },
    renderItem: (params: any, api: any) => draw(items[params.dataIndex], api),
  };
}

function trackSeries(gi: number, items: any[], band: number[], thinColor: string, hatchColor: string) {
  return segSeries(gi, items, (d: any, api: any) => {
    if (!Array.isArray(d)) {
      return { type: "rect", shape: rectShape(api, d, d, band[0], band[1], 1), style: { fill: thinColor } };
    }
    const s = d.length > 2 ? d[2] : 1;
    const r = rectShape(api, d[0], d[1], band[0], band[1], 1);
    if (s >= 1 || r.width < 2) return { type: "rect", shape: r, style: { fill: "#000" } };
    const k = 1 / s - 1;
    const children: any[] = [];
    let x = r.x, i = 0;
    while (x < r.x + r.width) {
      const w = Math.min(1, r.x + r.width - x);
      children.push({ type: "rect", shape: { x, y: r.y, width: w, height: r.height }, style: { fill: hatchColor } });
      x += 1 + HATCH_GAPS[i % HATCH_GAPS.length] * k;
      i++;
    }
    return { type: "group", children };
  }, 3);
}

function buildOption() {
  const grid: any[] = [], xAxis: any[] = [], yAxis: any[] = [], series: any[] = [], graphic: any[] = [];
  const labelAxes: any[] = [];
  const tickStyle = { color: "#000", fontSize: 13.5, fontFamily: FONT };

  panels.forEach((p, gi) => {
    const side = SIDES[p.side];
    grid.push({ left: side.left, width: side.width, top: ROW_TOPS[p.row], height: ROW_H, show: true, borderColor: "#000", borderWidth: 1.5, backgroundColor: "transparent" });
    xAxis.push({ type: "value", gridIndex: gi, min: side.min, max: side.max, show: false });
    yAxis.push({
      type: "value", gridIndex: gi, min: MRT_MIN, max: MRT_MAX, inverse: true, show: p.side === 0,
      axisLine: { show: false }, splitLine: { show: false },
      axisTick: { show: true, length: 4, customValues: mrtTicks, lineStyle: { color: "#000", width: 1 } },
      axisLabel: { customValues: mrtTicks, formatter: (v: number) => v.toFixed(1), margin: 8, ...tickStyle },
    });
    if (p.side === 0) {
      labelAxes.push({
        type: "value", gridIndex: gi, min: MRT_MIN, max: MRT_MAX, inverse: true, position: "left",
        axisLine: { show: false }, splitLine: { show: false }, axisTick: { show: false },
        axisLabel: {
          customValues: TRACK_LABEL_Y, margin: 2, color: "#000", fontSize: 15.5, fontFamily: FONT,
          formatter: (v: number) => (v < 1.5 ? trackNames[0] : v < 1.7 ? trackNames[1] : trackNames[2]),
        },
      });
    }
    series.push({ type: "line", xAxisIndex: gi, yAxisIndex: gi, data: p.mrt, showSymbol: false, symbol: "none", lineStyle: { color: "#000", width: 1.4 }, z: 3, silent: true });
    series.push(segSeries(gi, p.red, (x: number, api: any) => {
      const a = api.coord([x, 0]); const b = api.coord([x, 1]);
      return { type: "line", shape: { x1: a[0], y1: a[1], x2: b[0], y2: b[1] }, style: { stroke: RED, lineWidth: 1.8 } };
    }, 4));
    series.push(segSeries(gi, p.dom, (d: number[], api: any) => {
      const a = api.coord([d[0], 0]); const b = api.coord([d[1], 0]);
      return { type: "rect", shape: { x: a[0], y: a[1] - 2.8, width: b[0] - a[0], height: 5.6 }, style: { fill: ORANGE } };
    }, 5));
    series.push(segSeries(gi, p.mo, (d: number[], api: any) => ({ type: "rect", shape: rectShape(api, d[0], d[1], 1.095, 1.122, 2), style: { fill: MARK_O } }), 3));
    series.push(segSeries(gi, p.mb, (d: number[], api: any) => ({ type: "rect", shape: rectShape(api, d[0], d[1], 1.112, 1.139, 2), style: { fill: MARK_B } }), 3));
    series.push(segSeries(gi, p.st, (d: any[], api: any) => ({ type: "rect", shape: rectShape(api, d[0], d[1], BANDS.st[0], BANDS.st[1], 1), style: { fill: STATE_COLORS[d[2]] } }), 3));
    series.push(trackSeries(gi, p.h3, BANDS.h3, "rgba(0,0,0,0.85)", "#000"));
    series.push(trackSeries(gi, p.h2, BANDS.h2, "rgba(0,0,0,0.8)", "#000"));
    series.push(trackSeries(gi, p.ct, BANDS.ct, "rgba(0,0,0,0.45)", "rgba(0,0,0,0.7)"));
  });

  sPanels.forEach((p, k) => {
    const gi = panels.length + k;
    const side = SIDES[p.side];
    grid.push({ left: side.left, width: side.width, top: S_TOP, height: S_H, show: true, borderColor: "#000", borderWidth: 1.5, backgroundColor: "transparent" });
    xAxis.push({
      type: "value", gridIndex: gi, min: side.min, max: side.max,
      axisLine: { show: false }, splitLine: { show: false },
      axisTick: { show: true, length: 5, customValues: p.side === 0 ? leftXTicks : rightXTicks, lineStyle: { color: "#000", width: 1 } },
      axisLabel: { customValues: p.side === 0 ? leftXLabels : rightXLabels, margin: 8, ...tickStyle, fontSize: 14 },
      name: "Position (Mb)", nameLocation: "middle", nameGap: 35,
      nameTextStyle: { color: "#000", fontSize: 14.5, fontFamily: FONT },
    });
    yAxis.push({
      type: "value", gridIndex: gi, min: S_MIN, max: S_MAX, show: p.side === 0,
      axisLine: { show: false }, splitLine: { show: false },
      axisTick: { show: true, length: 4, customValues: sTicks, lineStyle: { color: "#000", width: 1 } },
      axisLabel: { customValues: sTicks, margin: 8, ...tickStyle, formatter: (v: number) => (v < 0 ? "\u2212" : "") + Math.abs(v).toFixed(1) },
    });
    series.push({ type: "scatter", xAxisIndex: gi, yAxisIndex: gi, data: p.pts, symbolSize: 3.1, itemStyle: { color: "#000" }, z: 3, silent: true });
    series.push(segSeries(gi, p.red, (x: number, api: any) => {
      const a = api.coord([x, 0.5]); const b = api.coord([x, -0.5]);
      return { type: "line", shape: { x1: a[0], y1: a[1], x2: b[0], y2: b[1] }, style: { stroke: RED, lineWidth: 1.8 } };
    }, 4));
    series.push(segSeries(gi, p.dom, (d: number[], api: any) => {
      const a = api.coord([d[0], 0.5]); const b = api.coord([d[1], 0.5]);
      return { type: "rect", shape: { x: a[0], y: a[1] - 2.8, width: b[0] - a[0], height: 5.6 }, style: { fill: ORANGE } };
    }, 5));
  });

  labelAxes.forEach((a) => yAxis.push(a));

  const titleY = [11.5, 243, 477, 711.5];
  titles.forEach((t, i) => {
    graphic.push({ type: "text", x: 404, y: titleY[i], style: { text: t, textAlign: "center", textVerticalAlign: "middle", fontSize: 22, fontWeight: "bold", fontFamily: FONT, fill: "#000" } });
    graphic.push({ type: "text", x: 47, y: ROW_TOPS[i] + ROW_H / 2, rotation: Math.PI / 2, style: { text: "MRT", textAlign: "center", textVerticalAlign: "middle", fontSize: 14, fontFamily: FONT, fill: "#000" } });
  });
  graphic.push({ type: "text", x: 43, y: S_TOP + S_H / 2, rotation: Math.PI / 2, style: { text: "S", textAlign: "center", textVerticalAlign: "middle", fontSize: 14, fontFamily: FONT, fill: "#000" } });

  return { animation: false, backgroundColor: "#fff", grid, xAxis, yAxis, series, graphic };
}

export default function App() {
  const ref = useRef<HTMLDivElement>(null);
  useEffect(() => {
    const chart = echarts.init(ref.current!, undefined, { renderer: "svg" });
    chart.setOption(buildOption() as any);
    return () => chart.dispose();
  }, []);
  return <div ref={ref} style={{ position: "fixed", left: 0, top: 0, width: 717, height: 1165, background: "#fff" }} />;
}
